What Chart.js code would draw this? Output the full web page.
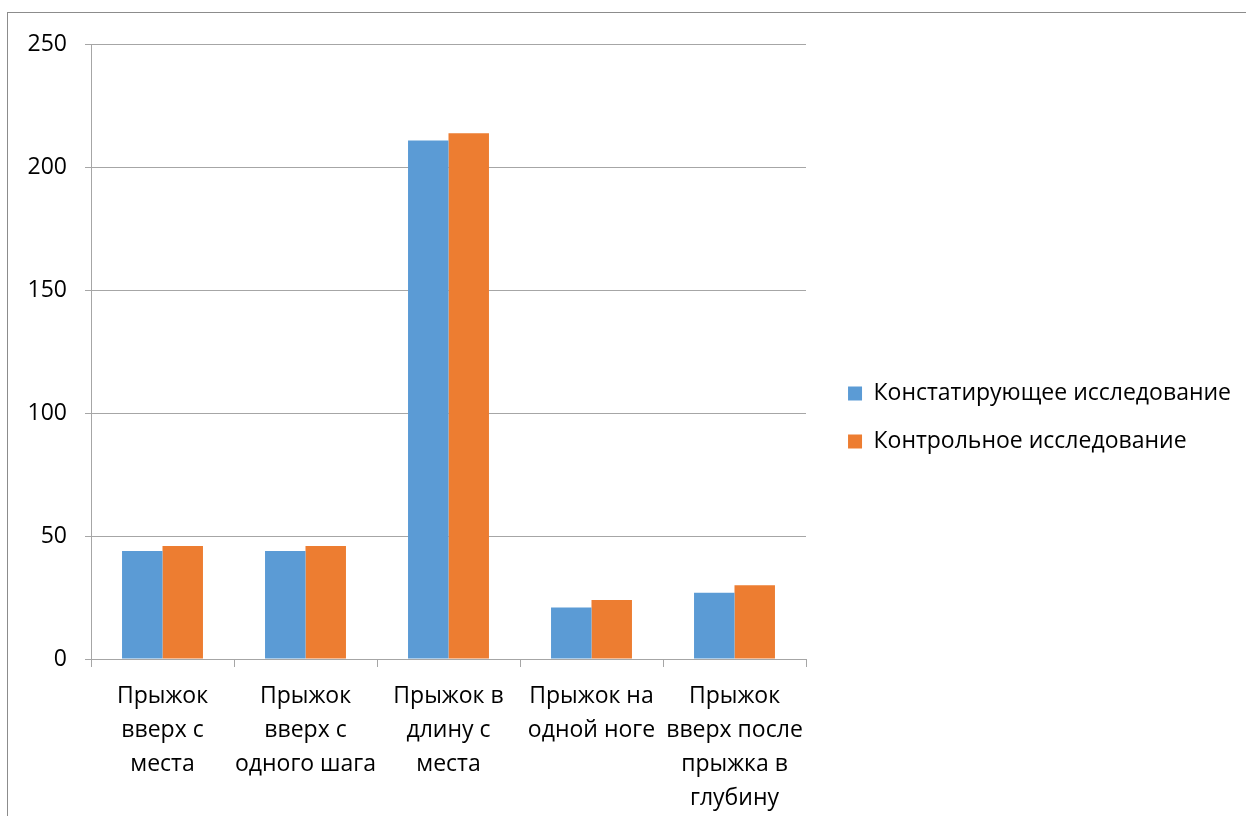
<!DOCTYPE html>
<html>
<head>
<meta charset="utf-8">
<script src="https://cdn.jsdelivr.net/npm/chart.js@4"></script>
<style>
  body { margin: 0; background: #fff; }
  #box { position: absolute; left: 7px; top: 12px; width: 1239px; height: 804px;
         border-left: 1px solid #8c8c8c; border-top: 1px solid #8c8c8c; }
  canvas { display: block; }
</style>
</head>
<body>
<div id="box"><canvas id="jumpChart" width="1238" height="803"></canvas></div>
<script>
// Jump test results
const categories = [
    ['Прыжок', 'вверх с', 'места'],
    ['Прыжок', 'вверх с', 'одного шага'],
    ['Прыжок в', 'длину с', 'места'],
    ['Прыжок на', 'одной ноге'],
    ['Прыжок', 'вверх после', 'прыжка в', 'глубину']
];
const seriesNames = ['Констатирующее исследование', 'Контрольное исследование'];
const stating = [44, 44, 211, 21, 27];
const control = [46, 46, 214, 24, 30];
const yTicks = [0, 50, 100, 150, 200, 250];

const font = { family: 'Open Sans', size: 23 };
const padRight = 5;

const ctx = document.getElementById('jumpChart').getContext('2d');
new Chart(ctx, {
    type: 'bar',
    data: {
        labels: categories,
        datasets: [{
            label: seriesNames[0],
            data: stating,
            backgroundColor: '#5b9bd5',
            categoryPercentage: 0.566,
            barPercentage: 1.0
        }, {
            label: seriesNames[1],
            data: control,
            backgroundColor: '#ed7d31',
            categoryPercentage: 0.566,
            barPercentage: 1.0
        }]
    },
    options: {
        responsive: false,
        animation: false,
        layout: { padding: { top: 6, right: padRight, bottom: 0, left: 0 } },
        plugins: {
            tooltip: { enabled: false },
            legend: {
                position: 'right',
                maxWidth: 460,
                labels: {
                    font: font,
                    color: '#000',
                    boxWidth: 14,
                    boxHeight: 14,
                    padding: 25
                }
            }
        },
        scales: {
            x: {
                grid: { drawOnChartArea: false, tickLength: 8, color: '#a6a6a6' },
                border: { color: '#a6a6a6' },
                ticks: {
                    font: { family: 'Open Sans', size: 23, lineHeight: 1.48 },
                    color: '#000',
                    maxRotation: 0,
                    minRotation: 0,
                    autoSkip: false,
                    padding: 12
                },
                afterFit: (s) => { s.height = 157; }
            },
            topGap: {
                type: 'category',
                position: 'top',
                grid: { display: false },
                border: { display: false },
                ticks: { display: false },
                afterFit: (s) => { s.height = 22; }
            },
            y: {
                min: yTicks[0],
                max: yTicks[yTicks.length - 1],
                grid: { color: '#a6a6a6', tickLength: 6 },
                border: { color: '#a6a6a6' },
                ticks: {
                    stepSize: yTicks[1] - yTicks[0],
                    font: font,
                    color: '#000',
                    padding: 18
                },
                afterFit: (s) => { s.width = 83; }
            },
            rightGap: {
                position: 'right',
                grid: { display: false },
                border: { display: false },
                ticks: { display: false },
                afterFit: (s) => { s.width = Math.max(0, s.chart.width - padRight - 798 - s.chart.legend.width); }
            }
        }
    }
});
</script>
</body>
</html>
